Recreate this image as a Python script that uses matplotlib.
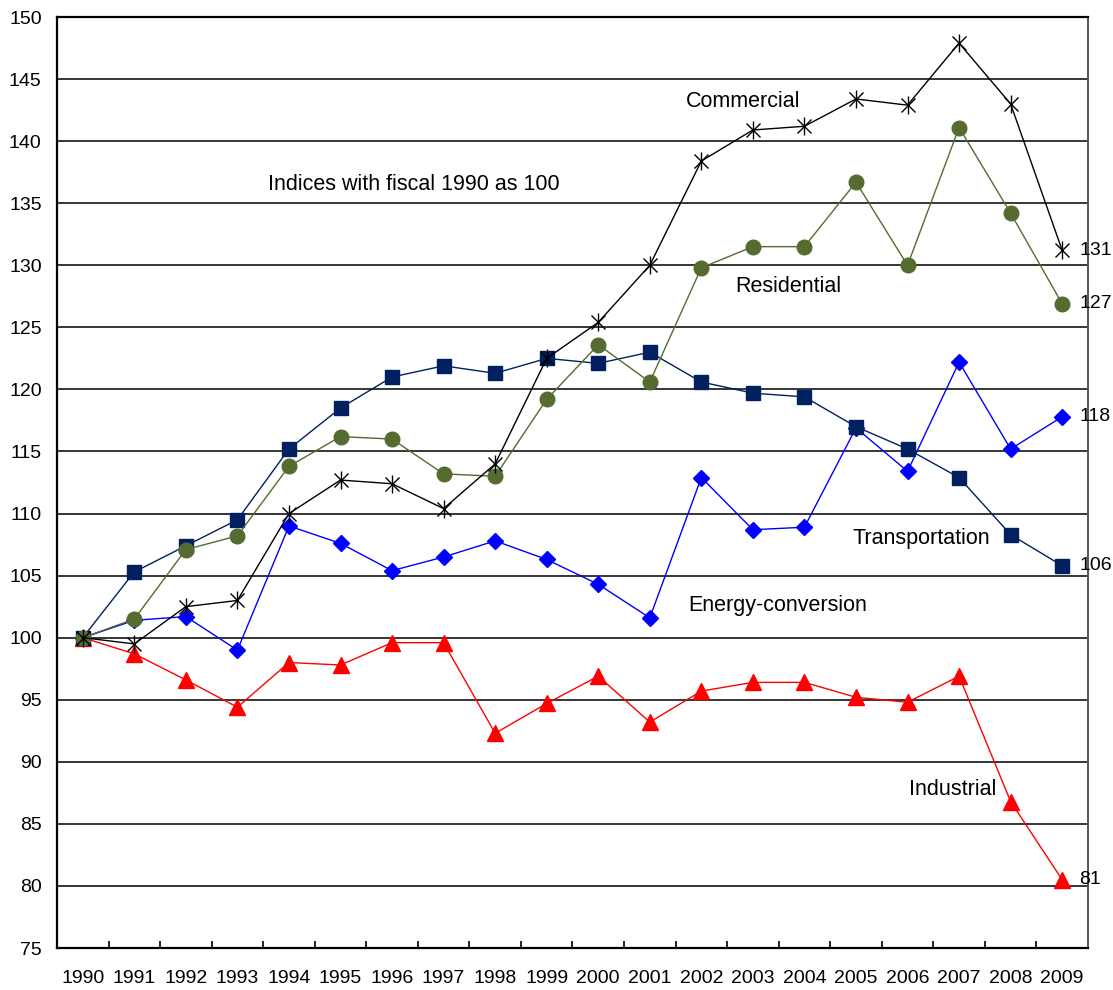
import numpy as np
import matplotlib
matplotlib.use("Agg")
import matplotlib.pyplot as plt
from matplotlib.ticker import FixedLocator, NullFormatter

plt.rcParams["font.family"] = ["Liberation Sans", "DejaVu Sans"]

# ---------------------------------------------------------------------------
# Data (indices, fiscal 1990 = 100)
# ---------------------------------------------------------------------------
years = [str(y) for y in range(1990, 2010)]

commercial = [100, 99.5, 102.5, 103.0, 110.0, 112.7, 112.4, 110.4, 114.0, 122.5,
              125.4, 130.0, 138.4, 140.9, 141.2, 143.4, 142.9, 147.9, 143.0, 131.2]
residential = [100, 101.5, 107.1, 108.2, 113.8, 116.2, 116.0, 113.2, 113.0, 119.2,
               123.6, 120.6, 129.8, 131.5, 131.5, 136.7, 130.0, 141.1, 134.2, 126.9]
transportation = [100, 105.3, 107.4, 109.5, 115.2, 118.5, 121.0, 121.9, 121.3, 122.5,
                  122.1, 123.0, 120.6, 119.7, 119.4, 117.0, 115.2, 112.9, 108.3, 105.8]
energy_conv = [100, 101.4, 101.7, 99.0, 109.0, 107.6, 105.4, 106.5, 107.8, 106.3,
               104.3, 101.6, 112.9, 108.7, 108.9, 116.9, 113.4, 122.2, 115.2, 117.8]
industrial = [100, 98.7, 96.6, 94.4, 98.0, 97.8, 99.6, 99.6, 92.3, 94.7,
              96.9, 93.2, 95.7, 96.4, 96.4, 95.2, 94.8, 96.9, 86.8, 80.5]

end_labels = {"Commercial": "131", "Residential": "127", "Energy-conversion": "118",
              "Transportation": "106", "Industrial": "81"}

x = np.arange(len(years))

fig = plt.figure(figsize=(11.13, 9.9), dpi=100)
ax = fig.add_axes([0.0512, 0.0424, 0.9263, 0.9404])

ax.plot(x, industrial, color="#FF0000", lw=1.0, marker="^", ms=11.5, zorder=3)
ax.plot(x, energy_conv, color="#0000FF", lw=1.0, marker="D", ms=8.5, zorder=4)
ax.plot(x, transportation, color="#002060", lw=1.0, marker="s", ms=10.5, zorder=5)
ax.plot(x, residential, color="#556B2F", lw=1.0, marker="o", ms=10.5, zorder=6)
ax.plot(x, commercial, color="black", lw=1.0, marker="x", ms=9.5, mew=1.0, zorder=7)
ax.plot(x, commercial, color="black", ls="none", marker="|", ms=13, mew=1.0, zorder=7)

# ---------------------------------------------------------------------------
# Axes styling
# ---------------------------------------------------------------------------
ax.set_xlim(-0.5, len(years) - 0.5)
ax.set_ylim(75, 150)
ax.set_yticks(np.arange(75, 151, 5))
ax.yaxis.grid(True, color="black", lw=1.1)
ax.set_axisbelow(True)

ax.set_xticks(x)
ax.set_xticklabels(years)
ax.xaxis.set_minor_locator(FixedLocator(np.arange(0.5, len(years) - 0.5, 1)))
ax.xaxis.set_minor_formatter(NullFormatter())
ax.tick_params(axis="x", which="major", length=0, pad=16, labelsize=14)
ax.tick_params(axis="x", which="minor", direction="in", length=5, width=1.2)
ax.tick_params(axis="y", length=0, pad=11, labelsize=14)

for side in ("left", "bottom", "top"):
    ax.spines[side].set_linewidth(1.6)
    ax.spines[side].set_color("black")
ax.spines["right"].set_linewidth(1.4)
ax.spines["right"].set_color("#555555")

# ---------------------------------------------------------------------------
# Annotations
# ---------------------------------------------------------------------------
txt = dict(fontsize=15.5, ha="left", va="center")
ax.text(3.59, 136.5, "Indices with fiscal 1990 as 100", **txt)
ax.text(11.70, 143.2, "Commercial", **txt)
ax.text(12.65, 128.3, "Residential", **txt)
ax.text(14.94, 108.0, "Transportation", **txt)
ax.text(11.74, 102.6, "Energy-conversion", **txt)
ax.text(16.03, 87.8, "Industrial", **txt)

last = len(years) - 1
for name, series in [("Commercial", commercial), ("Residential", residential),
                     ("Energy-conversion", energy_conv), ("Transportation", transportation),
                     ("Industrial", industrial)]:
    ax.text(last + 0.33, series[-1], end_labels[name], fontsize=14,
            ha="left", va="center", clip_on=False)

fig.savefig("out.png", dpi=100)
